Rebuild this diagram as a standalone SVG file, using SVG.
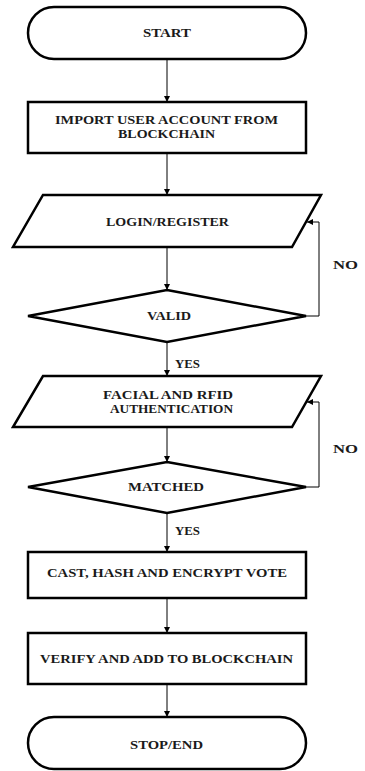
<svg xmlns="http://www.w3.org/2000/svg" width="365" height="771" viewBox="0 0 365 771">
<style>
.shape{fill:#fff;stroke:#000;stroke-width:2.5}
.conn{fill:none;stroke:#000;stroke-width:1}
text{font-family:"Liberation Serif","Times New Roman",serif;font-weight:bold;font-size:12px;fill:#1a1a1a;text-anchor:middle}
</style>
<defs>
<marker id="arr" viewBox="0 0 10 10" refX="10" refY="5" markerWidth="6" markerHeight="6" markerUnits="userSpaceOnUse" orient="auto">
<path d="M0,0 L10,5 L0,10 Z" fill="#000"/>
</marker>
</defs>
<g id="connectors">
<line class="conn" x1="167" y1="59" x2="167" y2="102" marker-end="url(#arr)"/>
<line class="conn" x1="167" y1="153" x2="167" y2="195" marker-end="url(#arr)"/>
<line class="conn" x1="167" y1="247" x2="167" y2="290" marker-end="url(#arr)"/>
<polyline class="conn" points="306,316 319,316 319,222 307,222" marker-end="url(#arr)"/>
<line class="conn" x1="167" y1="342" x2="167" y2="376" marker-end="url(#arr)"/>
<polyline class="conn" points="306,487 319,487 319,402 307,402" marker-end="url(#arr)"/>
<line class="conn" x1="167" y1="427" x2="167" y2="462" marker-end="url(#arr)"/>
<line class="conn" x1="167" y1="513" x2="167" y2="552" marker-end="url(#arr)"/>
<line class="conn" x1="167" y1="598" x2="167" y2="633" marker-end="url(#arr)"/>
<line class="conn" x1="167" y1="684" x2="167" y2="717" marker-end="url(#arr)"/>
<text x="187.5" y="368" textLength="25" lengthAdjust="spacingAndGlyphs">YES</text>
<text x="345.5" y="269" textLength="25" lengthAdjust="spacingAndGlyphs">NO</text>
<text x="187.5" y="535" textLength="25" lengthAdjust="spacingAndGlyphs">YES</text>
<text x="345.5" y="453" textLength="25" lengthAdjust="spacingAndGlyphs">NO</text>
</g>
<g id="start">
<rect class="shape" x="28" y="7" width="278" height="52" rx="26" ry="26"/>
<text x="167" y="37" textLength="48" lengthAdjust="spacingAndGlyphs">START</text>
</g>
<g id="import">
<rect class="shape" x="28" y="102" width="278" height="51"/>
<text x="166.5" y="124" textLength="223" lengthAdjust="spacingAndGlyphs">IMPORT USER ACCOUNT FROM</text>
<text x="166.5" y="138" textLength="97" lengthAdjust="spacingAndGlyphs">BLOCKCHAIN</text>
</g>
<g id="login">
<polygon class="shape" points="43,195 321,195 292,247 13,247"/>
<text x="167.5" y="226" textLength="123" lengthAdjust="spacingAndGlyphs">LOGIN/REGISTER</text>
</g>
<g id="valid">
<polygon class="shape" points="167,290 306,316 167,342 28,316"/>
<text x="169" y="320" textLength="44" lengthAdjust="spacingAndGlyphs">VALID</text>
</g>
<g id="auth">
<polygon class="shape" points="43,376 321,376 292,427 13,427"/>
<text x="168" y="399" textLength="130" lengthAdjust="spacingAndGlyphs">FACIAL AND RFID</text>
<text x="171.5" y="413" textLength="123" lengthAdjust="spacingAndGlyphs">AUTHENTICATION</text>
</g>
<g id="matched">
<polygon class="shape" points="167,462 306,487 167,513 28,487"/>
<text x="166" y="491" textLength="76" lengthAdjust="spacingAndGlyphs">MATCHED</text>
</g>
<g id="cast">
<rect class="shape" x="28" y="552" width="278" height="46"/>
<text x="167" y="577" textLength="240" lengthAdjust="spacingAndGlyphs">CAST, HASH AND ENCRYPT VOTE</text>
</g>
<g id="verify">
<rect class="shape" x="28" y="633" width="278" height="51"/>
<text x="166.5" y="663" textLength="253" lengthAdjust="spacingAndGlyphs">VERIFY AND ADD TO BLOCKCHAIN</text>
</g>
<g id="stop">
<rect class="shape" x="28" y="717" width="278" height="52" rx="26" ry="26"/>
<text x="166.5" y="749" textLength="73" lengthAdjust="spacingAndGlyphs">STOP/END</text>
</g>
</svg>
